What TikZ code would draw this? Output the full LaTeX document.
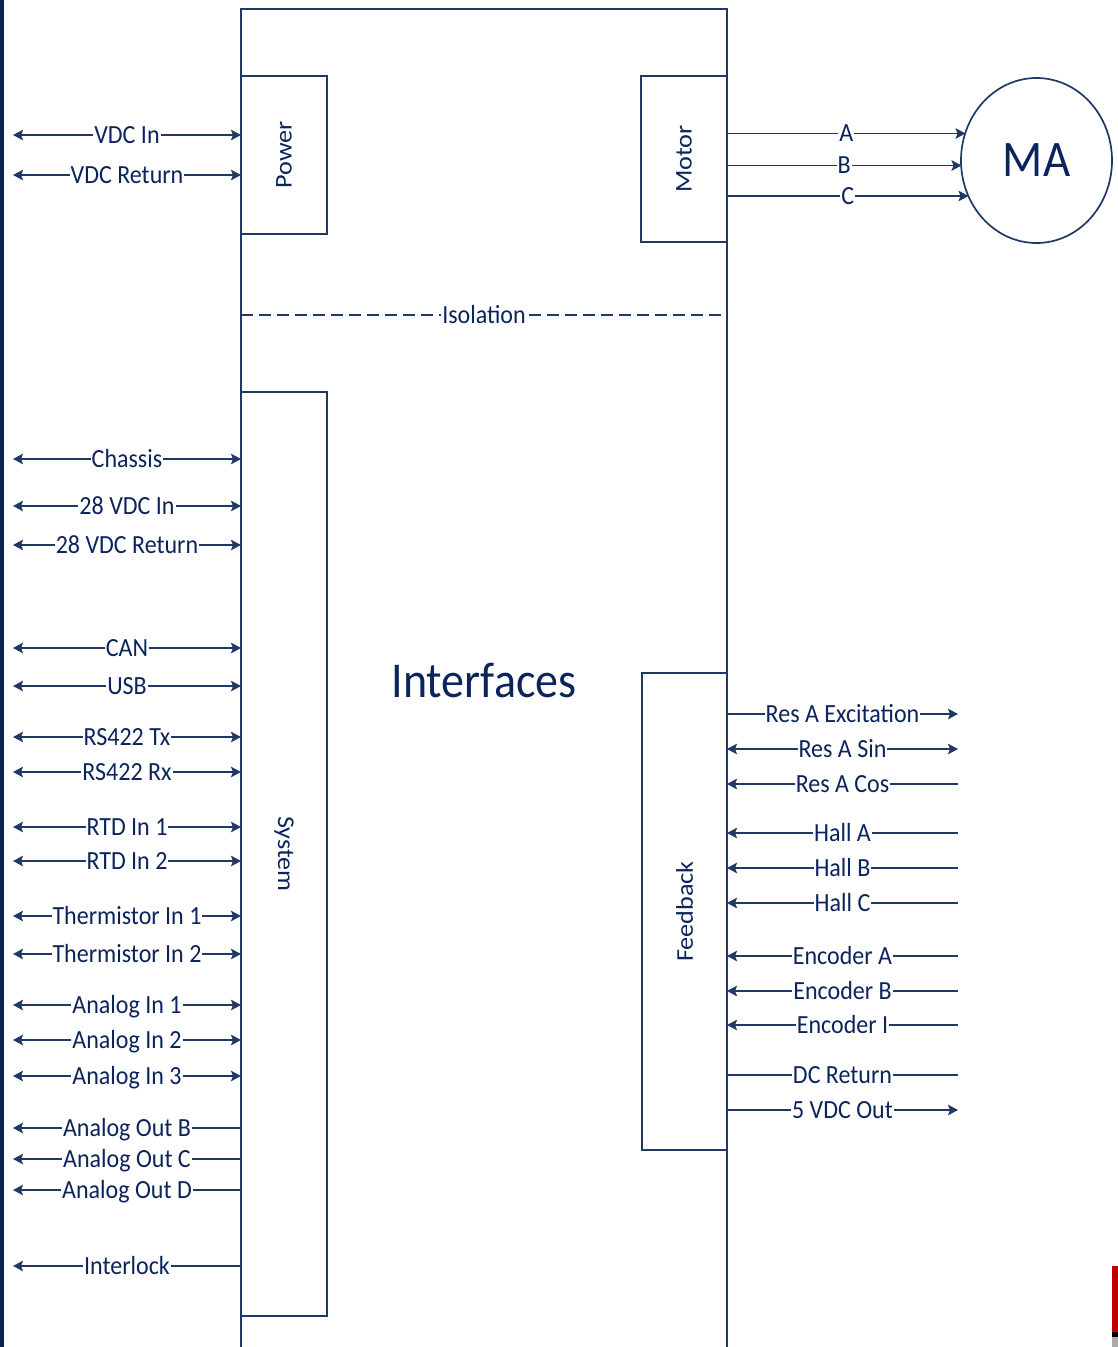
\documentclass[tikz,border=0pt]{standalone}
\usepackage{fontspec}
\setmainfont{Carlito}
\usepackage{graphicx}
\usetikzlibrary{arrows.meta,shapes.geometric}
\definecolor{lineblue}{RGB}{31,56,100}
\definecolor{textblue}{RGB}{12,36,92}
\definecolor{edgeblue}{RGB}{8,38,75}
\definecolor{slidered}{RGB}{192,0,0}
\newcommand\vstr[1]{\scalebox{1}[1.09]{#1}}
\newcommand\hstr[1]{\scalebox{1.09}[1]{#1}}
\begin{document}
\begin{tikzpicture}[x=1pt,y=-1pt,
  >={Stealth[length=10pt,width=10.5pt,inset=2pt]},
  wire/.style={draw=lineblue,line width=1.8pt},
  blk/.style={draw=lineblue,line width=1.7pt,inner sep=0pt,outer sep=0pt},
  bi/.style={<->},
  lt/.style={<-},
  rt/.style={->},
  nn/.style={},
  lbl/.style={fill=white,text=textblue,inner xsep=1pt,inner ysep=0pt,
    text height=16.8pt,text depth=0pt,font=\fontsize{24}{28}\selectfont},
  vlbl/.style={text=textblue,inner sep=0pt,font=\fontsize{24}{28}\selectfont},
]
\useasboundingbox (0,0) rectangle (1118,1347);
% slide edges
\fill[edgeblue] (0,0) rectangle (4,1347);
\fill[slidered] (1112,1266) rectangle (1118,1332);
\fill[black] (1112,1332) rectangle (1118,1337);
\fill[black!33] (1112,1337) rectangle (1118,1347);

% main enclosure
\draw[blk,line join=miter] (241,1350) -- (241,9) -- (727,9) -- (727,1350);

% blocks
\node[blk,minimum width=86pt,minimum height=158pt] (power) at (284,155) {};
\node[vlbl,rotate=90] (powerlbl) at (power.center) {\hstr{Power}};
\node[blk,minimum width=86pt,minimum height=166pt] (motor) at (684,159) {};
\node[vlbl,rotate=90] (motorlbl) at (motor.center) {\hstr{Motor}};
\node[blk,minimum width=86pt,minimum height=924pt] (system) at (284,854) {};
\node[vlbl,rotate=-90] (systemlbl) at (system.center) {\hstr{System}};
\node[blk,minimum width=85pt,minimum height=477pt] (feedback) at (684.5,911.5) {};
\node[vlbl,rotate=90] (feedbacklbl) at (feedback.center) {\hstr{Feedback}};

\node[text=textblue,inner sep=0pt,font=\fontsize{46}{52}\selectfont] (interfaces) at (484,680) {\vstr{Interfaces}};

% motor
\node[ellipse,draw=lineblue,line width=1.7pt,minimum width=151pt,minimum height=165pt,
  inner sep=0pt,outer sep=0pt,text=textblue,font=\fontsize{47}{52}\selectfont] (MA) at (1036.5,160.5) {\vstr{MA}};
\coordinate (mA) at (727,133.5);
\coordinate (mB) at (727,165.5);
\coordinate (mC) at (727,196);
\coordinate (eA) at (965.5,133.5);
\coordinate (eB) at (961.5,165.5);
\coordinate (eC) at (968.5,196);
\draw[wire,->] (mA) -- node[lbl]{\vstr{A}} (eA);
\draw[wire,->] (mB) -- node[lbl]{\vstr{B}} (eB);
\draw[wire,->] (mC) -- node[lbl]{\vstr{C}} (eC);

% isolation
\coordinate (isoL) at (241,315);
\coordinate (isoR) at (727,315);
\draw[wire,line width=1.5pt,dash pattern=on 12pt off 6pt] (isoL) -- node[lbl]{\vstr{Isolation}} (isoR);

% left connectors
\foreach \yy/\tt/\ss in {
  135/VDC In/bi, 175/VDC Return/bi,
  459/Chassis/bi, 506/28 VDC In/bi, 545/28 VDC Return/bi,
  648/CAN/bi, 686/USB/bi, 737/RS422 Tx/bi, 772/RS422 Rx/bi,
  827/RTD In 1/bi, 861/RTD In 2/bi,
  916/Thermistor In 1/bi, 954/Thermistor In 2/bi,
  1005/Analog In 1/bi, 1040/Analog In 2/bi, 1076/Analog In 3/bi,
  1128/Analog Out B/lt, 1159/Analog Out C/lt, 1190/Analog Out D/lt,
  1266/Interlock/lt}{
  \coordinate (L\yy) at (13,\yy);
  \coordinate (R\yy) at (241,\yy);
  \draw[wire,\ss] (L\yy) -- node[lbl]{\vstr{\tt}} (R\yy);
}

% feedback connectors
\foreach \yy/\tt/\ss in {
  714/Res A Excitation/rt, 749/Res A Sin/bi, 784/Res A Cos/lt,
  833/Hall A/lt, 868/Hall B/lt, 903/Hall C/lt,
  956/Encoder A/lt, 991/Encoder B/lt, 1025/Encoder I/lt,
  1075/DC Return/nn, 1110/5 VDC Out/rt}{
  \coordinate (FL\yy) at (727,\yy);
  \coordinate (FR\yy) at (958,\yy);
  \draw[wire,\ss] (FL\yy) -- node[lbl]{\vstr{\tt}} (FR\yy);
}
\end{tikzpicture}
\end{document}
